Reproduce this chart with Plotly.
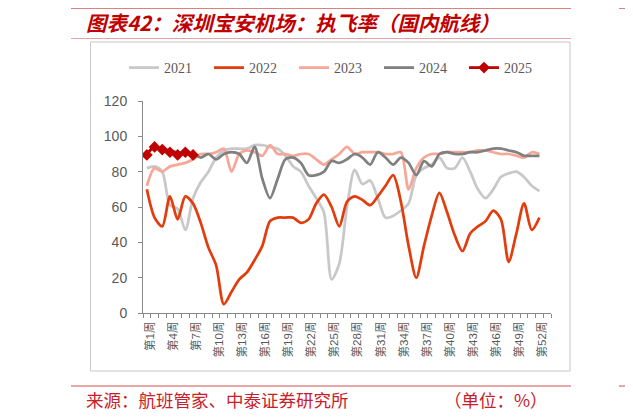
import plotly.graph_objects as go

# ---------------- data ----------------
weeks = [f"第{i}周" for i in range(1, 54)]
label_weeks = [f"第{i}周" for i in range(1, 54, 3)]

rate_2021 = [82, 83, 80, 61, 59, 47, 65, 74, 80, 88, 92, 93, 93, 93, 95, 95, 94, 93, 89, 83,
             80, 72, 65, 57, 19, 28, 60, 81, 73, 75, 65, 54, 55, 58, 62, 78, 82, 84, 88, 82,
             82, 88, 80, 70, 65, 70, 77, 79, 80, 77, 72, 69]
rate_2022 = [70, 54, 49, 66, 53, 66, 62, 51, 37, 27, 5, 12, 19, 23, 30, 38, 52, 54, 54, 54,
             51, 53, 62, 67, 60, 49, 63, 66, 64, 61, 66, 72, 78, 63, 38, 20, 38, 55, 68, 57,
             44, 35, 45, 49, 52, 58, 53, 29, 45, 62, 47, 54]
rate_2023 = [72, 82, 80, 83, 84, 85, 87, 90, 90, 91, 93, 80, 90, 92, 91, 89, 95, 90, 90, 89,
             90, 90, 87, 84, 87, 90, 94, 90, 91, 91, 91, 90, 90, 91, 70, 82, 88, 90, 90, 91,
             91, 91, 91, 92, 92, 91, 90, 90, 89, 88, 91, 90]
rate_2024 = [90, 94, 93, 92, 91, 90, 90, 88, 90, 87, 90, 91, 90, 85, 94, 76, 65, 76, 87, 88,
             85, 78, 78, 80, 86, 85, 87, 90, 88, 84, 91, 88, 84, 88, 85, 78, 86, 83, 90, 91,
             90, 90, 91, 91, 92, 93, 93, 92, 91, 89, 89, 89]
rate_2025 = [89.5, 94, 92.5, 91, 89.5, 91, 89.5]

series_names = ["2021", "2022", "2023", "2024", "2025"]
y_ticks = [0, 20, 40, 60, 80, 100, 120]

title_text = "图表42：深圳宝安机场：执飞率（国内航线）"
source_text = "来源：航班管家、中泰证券研究所"
unit_text = "（单位：%）"

# ---------------- layout helpers ----------------
# the page body has an 8px margin, so the figure is drawn 8px smaller and
# everything below is expressed in screenshot pixels
OFF = 8
W, H = 633 - OFF, 419 - OFF
L, R, T, B = 143, 551, 101, 313   # plot area in screenshot pixels
def px(x):
    return (x - L) / (R - L)
def py(y):
    return (B - y) / (B - T)

colors = {"2021": "#C8C8C8", "2022": "#E23D0E", "2023": "#F7A797",
          "2024": "#808080", "2025": "#C00000"}
data = {"2021": rate_2021, "2022": rate_2022, "2023": rate_2023,
        "2024": rate_2024, "2025": rate_2025}

fig = go.Figure()
for name in series_names:
    vals = data[name]
    if name == "2025":
        fig.add_trace(go.Scatter(
            x=weeks[:len(vals)], y=vals, name=name, mode="lines+markers",
            line=dict(color=colors[name], width=2.75, shape="spline"),
            marker=dict(symbol="diamond", size=9, color=colors[name])))
    else:
        fig.add_trace(go.Scatter(
            x=weeks[:len(vals)], y=vals, name=name, mode="lines",
            line=dict(color=colors[name], width=2.75, shape="spline", smoothing=0.8)))

ticktext = [w if w in label_weeks else "" for w in weeks]

fig.update_layout(
    width=W, height=H,
    margin=dict(l=L - OFF, r=W - (R - OFF), t=T - OFF, b=H - (B - OFF), autoexpand=False),
    paper_bgcolor="white", plot_bgcolor="white",
    font=dict(family="Liberation Sans, Noto Sans CJK SC", color="#595959"),
    showlegend=True,
    legend=dict(orientation="h", x=px(124), xanchor="left", y=py(68), yanchor="middle",
                font=dict(family="Liberation Serif, Noto Serif, serif", size=14, color="#595959"),
                bgcolor="rgba(0,0,0,0)", entrywidth=40, entrywidthmode="pixels",
                itemwidth=30, tracegroupgap=0),
    xaxis=dict(type="category", categoryorder="array", categoryarray=weeks,
               range=[-0.5, len(weeks) - 0.5],
               tickmode="array", tickvals=weeks, ticktext=ticktext,
               tickson="boundaries", ticks="outside", ticklen=4, tickcolor="#898989",
               tickangle=-90, showgrid=False, zeroline=False,
               ticklabelshift=3, ticklabelstandoff=3,
               showline=True, linecolor="#898989", linewidth=1,
               tickfont=dict(family="Liberation Sans, Noto Sans CJK SC", size=11.5, color="#595959")),
    yaxis=dict(range=[0, 120], tickmode="array", tickvals=y_ticks,
               ticks="outside", ticklen=4, tickcolor="#898989", ticklabelstandoff=8,
               showgrid=False, zeroline=False, showline=True, linecolor="#898989", linewidth=1,
               tickfont=dict(family="Liberation Sans", size=14, color="#595959")),
)

shapes = [
    # top red bar
    dict(type="line", xref="paper", yref="paper", x0=px(71), x1=px(571), y0=py(7), y1=py(7),
         line=dict(color="#C00000", width=3)),
    dict(type="line", xref="paper", yref="paper", x0=px(619), x1=px(640), y0=py(7), y1=py(7),
         line=dict(color="#C00000", width=3)),
    # title underline
    dict(type="line", xref="paper", yref="paper", x0=px(71), x1=px(571), y0=py(38.5), y1=py(38.5),
         line=dict(color="#E3A3A3", width=1)),
    # chart frame
    dict(type="rect", xref="paper", yref="paper", x0=px(90.5), x1=px(570), y0=py(42), y1=py(371),
         line=dict(color="#C8C8C8", width=1)),
    # bottom red line
    dict(type="line", xref="paper", yref="paper", x0=px(71), x1=px(571), y0=py(386), y1=py(386),
         line=dict(color="#D05050", width=1)),
    dict(type="line", xref="paper", yref="paper", x0=px(619), x1=px(640), y0=py(386), y1=py(386),
         line=dict(color="#D05050", width=1)),
]
fig.update_layout(shapes=shapes)

fig.add_annotation(xref="paper", yref="paper", x=px(84), y=py(22), xanchor="left", yanchor="middle",
                   text=title_text, showarrow=False,
                   font=dict(family="Noto Sans CJK SC", size=20.5, color="#C00000",
                             weight="bold", style="italic"))
fig.add_annotation(xref="paper", yref="paper", x=px(84), y=py(399), xanchor="left", yanchor="middle",
                   text=source_text, showarrow=False,
                   font=dict(family="Noto Sans CJK SC", size=17.5, color="#C8202A"))
fig.add_annotation(xref="paper", yref="paper", x=px(550), y=py(399), xanchor="right", yanchor="middle",
                   text=unit_text, showarrow=False,
                   font=dict(family="Noto Sans CJK SC", size=17.5, color="#C8202A"))

fig.write_html("out.html")
